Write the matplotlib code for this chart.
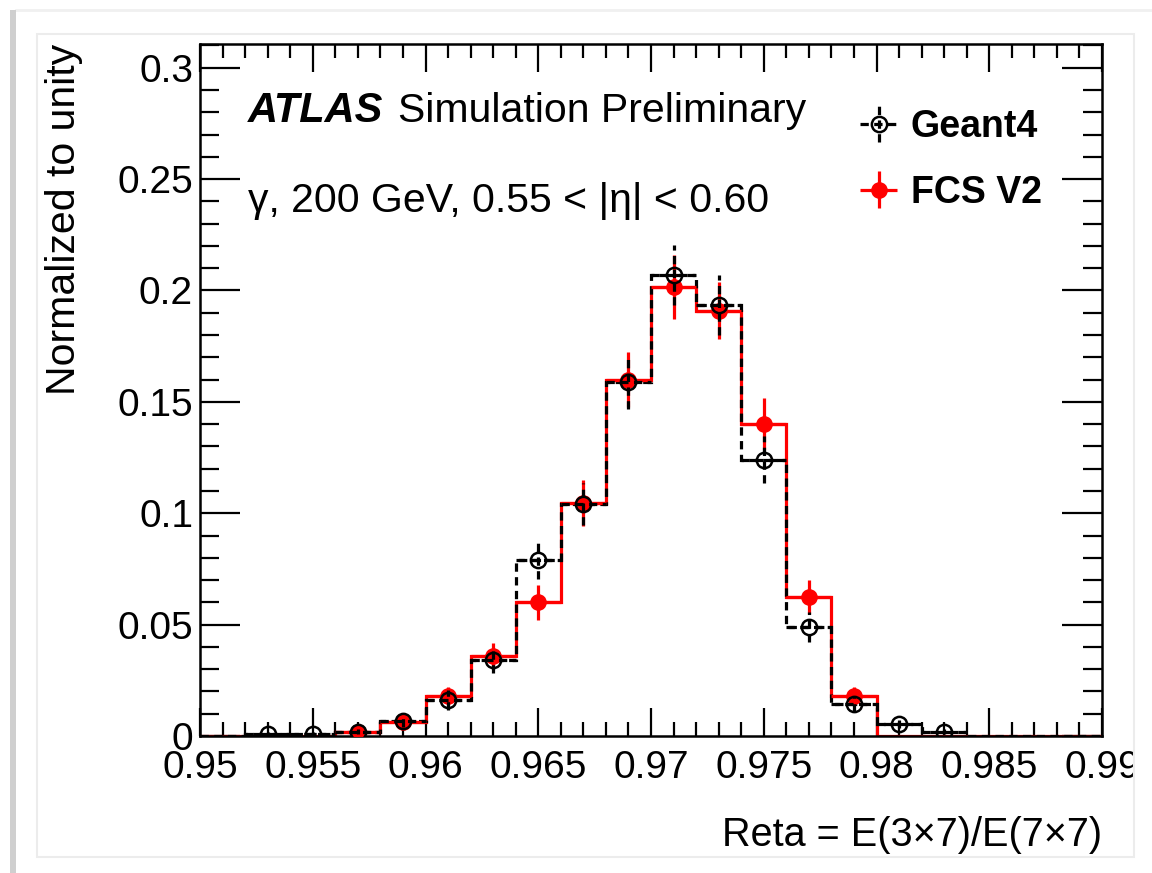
import numpy as np
import matplotlib.pyplot as plt
from matplotlib.patches import Rectangle
from matplotlib.lines import Line2D
from matplotlib.ticker import MultipleLocator

plt.rcParams['font.family'] = ['Liberation Sans', 'DejaVu Sans']

# Reta binning: 20 bins of 0.002 between 0.95 and 0.99
edges = np.round(np.arange(0.950, 0.9901, 0.002), 3)
centers = (edges[:-1] + edges[1:]) / 2

# Geant4 (black, dashed)
g4 = [0, 0.001, 0.001, 0.002, 0.0067, 0.016, 0.034, 0.079, 0.104, 0.159,
      0.207, 0.1935, 0.124, 0.049, 0.0144, 0.0054, 0.002, 0, 0, 0]
g4_err = [0, 0.0008, 0.0008, 0.0012, 0.0025, 0.0045, 0.0058, 0.0085, 0.0095, 0.012,
          0.0135, 0.0135, 0.0105, 0.0067, 0.0035, 0.002, 0.0012, 0, 0, 0]

# FCS V2 (red)
fcs = [0, 0, 0, 0.0018, 0.0063, 0.018, 0.036, 0.060, 0.1045, 0.160,
       0.2017, 0.1908, 0.140, 0.0624, 0.018, 0, 0, 0, 0, 0]
fcs_err = [0, 0, 0, 0.0012, 0.0025, 0.0042, 0.0058, 0.0078, 0.0104, 0.0125,
           0.0144, 0.0128, 0.0117, 0.0078, 0.0042, 0, 0, 0, 0, 0]

xticks = [0.95, 0.955, 0.96, 0.965, 0.97, 0.975, 0.98, 0.985, 0.99]
xticklabels = ['0.95', '0.955', '0.96', '0.965', '0.97', '0.975', '0.98', '0.985', '0.99']
yticks = [0, 0.05, 0.1, 0.15, 0.2, 0.25, 0.3]
yticklabels = ['0', '0.05', '0.1', '0.15', '0.2', '0.25', '0.3']

g4 = np.array(g4); g4_err = np.array(g4_err)
fcs = np.array(fcs); fcs_err = np.array(fcs_err)

fig = plt.figure(figsize=(11.52, 8.73), dpi=100)
ax = fig.add_axes([200/1152, 1-736/873, 902/1152, (736-44.3)/873])

dash = (0, (2.6, 1.7))
lw = 2.3

# histograms: red first, black dashed on top
ax.stairs(fcs, edges, color='red', lw=lw, zorder=2)
ax.stairs(g4, edges, color='black', lw=lw, linestyle=dash, zorder=3)

# error-bar points (skip empty bins)
m = fcs > 0
eb_fcs = ax.errorbar(centers[m], fcs[m], yerr=fcs_err[m], xerr=0.001, fmt='o',
                     color='red', ms=11, elinewidth=lw, capsize=0, zorder=4)
m = g4 > 0
eb_g4 = ax.errorbar(centers[m], g4[m], yerr=g4_err[m], xerr=0.001, fmt='o',
                    color='black', mfc='none', mec='black', mew=1.8, ms=11,
                    elinewidth=lw, capsize=0, zorder=5)
for c in eb_g4[2]:
    c.set_linestyle(dash)

ax.set_xlim(0.95, 0.99)
ax.set_ylim(0, 0.3105)
ax.set_xticks(xticks, xticklabels)
ax.set_yticks(yticks, yticklabels)
ax.xaxis.set_minor_locator(MultipleLocator(0.001))
ax.yaxis.set_minor_locator(MultipleLocator(0.01))
ax.tick_params(which='both', direction='in', top=True, right=True, labelsize=28, width=1.6)
ax.tick_params(axis='x', which='major', length=20, pad=10)
ax.tick_params(axis='x', which='minor', length=10)
ax.tick_params(axis='y', which='major', length=29, pad=5)
ax.tick_params(axis='y', which='minor', length=14)
for s in ax.spines.values():
    s.set_linewidth(1.8)

ax.set_ylabel('Normalized to unity', fontsize=29.5, loc='top')
ax.yaxis.set_label_coords(-0.1296, 1.0)
ax.set_xlabel('Reta = E(3\u00d77)/E(7\u00d77)', fontsize=28.5, loc='right', labelpad=22)

ax.text(0.053, 0.888, 'ATLAS', transform=ax.transAxes, fontsize=30,
        fontweight='bold', fontstyle='italic', va='baseline')
ax.text(0.219, 0.888, 'Simulation Preliminary', transform=ax.transAxes,
        fontsize=29.5, va='baseline')
ax.text(0.053, 0.758, '\u03b3, 200 GeV, 0.55 < |\u03b7| < 0.60', transform=ax.transAxes,
        fontsize=29.5, va='baseline')

leg = ax.legend([eb_g4, eb_fcs], ['Geant4', 'FCS V2'], loc='upper left',
                bbox_to_anchor=(0.7295, 0.907), frameon=False, borderpad=0,
                borderaxespad=0, handlelength=1.1, handletextpad=0.3,
                labelspacing=0.8, prop={'size': 27, 'weight': 'bold'})

# canvas decorations (screenshot border)
fig.add_artist(Rectangle((1134/1152, 0), 18/1152, 1, transform=fig.transFigure,
                         facecolor='white', edgecolor='none', zorder=10))
fig.add_artist(Rectangle((37/1152, 1-857/873), (1134-37)/1152, (857-34)/873,
                         transform=fig.transFigure, facecolor='none',
                         edgecolor='#ececec', lw=1.5, zorder=11))
fig.add_artist(Line2D([16/1152, 1], [1-10/873, 1-10/873], transform=fig.transFigure,
                      color='#f0f0f0', lw=2, zorder=11))
fig.add_artist(Rectangle((10/1152, 0), 6/1152, 1-10/873, transform=fig.transFigure,
                         facecolor='#cfcfcf', edgecolor='none', zorder=11))

fig.savefig('out.png', dpi=100)
